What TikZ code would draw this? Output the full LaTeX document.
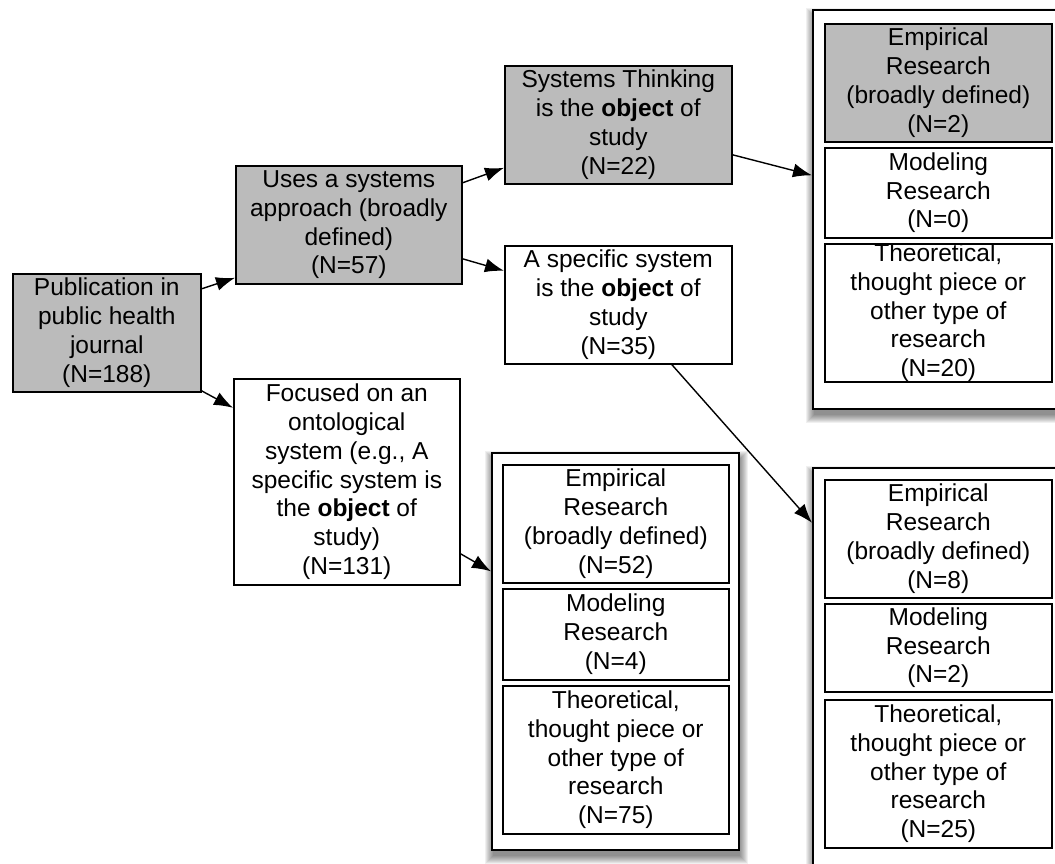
\documentclass[tikz,border=0pt]{standalone}
\usepackage{fontspec}
\setmainfont{Liberation Sans}
\usetikzlibrary{arrows.meta}
\definecolor{boxgray}{RGB}{187,187,187}
\newcommand{\softshadow}[4]{%
  \foreach \e in {0,...,8}{\fill[black,opacity=0.06] (#1+2-\e,#2+7-\e) rectangle (#3+2+\e,#4+7+\e);}}
\begin{document}
\begin{tikzpicture}[x=1pt,y=-1pt,
  box/.style={draw=black, line width=1.6pt, fill=white, inner sep=0pt,
    align=center, anchor=north west,
    font=\fontsize{24.5}{28.8}\selectfont},
  graybox/.style={box, fill=boxgray},
  groupbox/.style={draw=black, line width=1.6pt, fill=white, inner sep=0pt, anchor=north west},
  arr/.style={draw=black, line width=1.4pt, -{Latex[length=19pt,width=14pt]}}
]
\useasboundingbox (0,0) rectangle (1055,863);
\fill[white] (0,0) rectangle (1055,863);

% shadows of the group boxes
\softshadow{812}{9}{1064}{408}
\softshadow{491}{452}{738}{849}
\softshadow{812}{467}{1064}{887}

% main nodes
\node[graybox, minimum width=188pt, minimum height=118pt] (pub) at (12,273)
  {Publication in\\public health\\journal\\(N=188)};
\node[graybox, minimum width=226pt, minimum height=118pt] (uses) at (235,165)
  {Uses a systems\\approach (broadly\\defined)\\(N=57)};
\node[graybox, minimum width=227pt, minimum height=118pt] (st) at (504,65)
  {Systems Thinking\\is the \textbf{object} of\\study\\(N=22)};
\node[box, minimum width=227pt, minimum height=118pt] (spec) at (504,245)
  {A specific system\\is the \textbf{object} of\\study\\(N=35)};
\node[box, minimum width=226pt, minimum height=206pt] (foc) at (233,378)
  {Focused on an\\ontological\\system (e.g., A\\specific system is\\the \textbf{object} of\\study)\\(N=131)};

% top right group
\node[groupbox, minimum width=252pt, minimum height=399pt] (TRout) at (812,9) {};
\node[graybox, minimum width=227pt, minimum height=118pt] (TRa) at (824,23)
  {Empirical\\Research\\(broadly defined)\\(N=2)};
\node[box, minimum width=227pt, minimum height=90pt] (TRb) at (824,147)
  {Modeling\\Research\\(N=0)};
\node[box, minimum width=227pt, minimum height=138pt] (TRc) at (824,243)
  {Theoretical,\\thought piece or\\other type of\\research\\(N=20)};

% bottom middle group
\node[groupbox, minimum width=247pt, minimum height=397pt] (BMout) at (491,452) {};
\node[box, minimum width=226pt, minimum height=118pt] (BMa) at (502,464)
  {Empirical\\Research\\(broadly defined)\\(N=52)};
\node[box, minimum width=226pt, minimum height=91pt] (BMb) at (502,588)
  {Modeling\\Research\\(N=4)};
\node[box, minimum width=226pt, minimum height=148pt] (BMc) at (502,685)
  {Theoretical,\\thought piece or\\other type of\\research\\(N=75)};

% bottom right group
\node[groupbox, minimum width=252pt, minimum height=420pt] (BRout) at (812,467) {};
\node[box, minimum width=227pt, minimum height=118pt] (BRa) at (824,479)
  {Empirical\\Research\\(broadly defined)\\(N=8)};
\node[box, minimum width=227pt, minimum height=88pt] (BRb) at (824,603)
  {Modeling\\Research\\(N=2)};
\node[box, minimum width=227pt, minimum height=148pt] (BRc) at (824,699)
  {Theoretical,\\thought piece or\\other type of\\research\\(N=25)};

% connectors
\draw[arr] ([yshift=44pt]pub.east) -- ([yshift=-53pt]uses.west);
\draw[arr] ([yshift=-58pt]pub.east) -- ([yshift=74pt]foc.west);
\draw[arr] ([yshift=42pt]uses.east) -- ([yshift=-43pt]st.west);
\draw[arr] ([yshift=-34pt]uses.east) -- ([yshift=34pt]spec.west);
\draw[arr] ([yshift=-30pt]st.east) -- ([yshift=34pt]TRout.west);
\draw[arr] ([xshift=53.5pt]spec.south) -- ([yshift=155pt]BRout.west);
\draw[arr] ([yshift=-72pt]foc.east) -- ([yshift=80pt]BMout.west);
\end{tikzpicture}
\end{document}
